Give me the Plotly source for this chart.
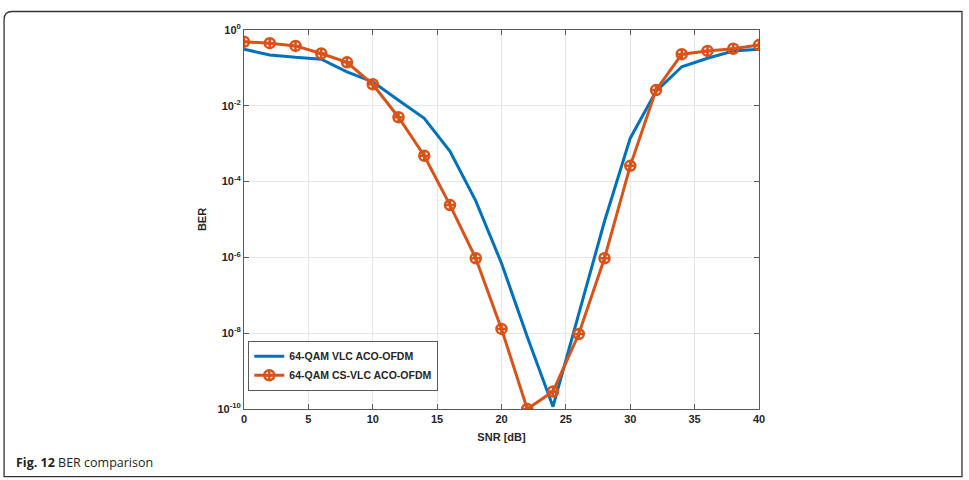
import plotly.graph_objects as go

snr = [0, 2, 4, 6, 8, 10, 12, 14, 16, 18, 20, 22, 24, 26, 28, 30, 32, 34, 36, 38, 40]
ber_vlc = [0.31, 0.22, 0.19, 0.17, 0.079, 0.043, 0.014, 0.0047, 6.3e-4, 3.1e-5, 7e-7,
           8e-9, 1.15e-10, 3.2e-8, 9e-6, 1.4e-3, 0.024, 0.107, 0.18, 0.28, 0.31]
ber_cs_vlc = [0.49, 0.45, 0.38, 0.24, 0.14, 0.037, 0.005, 4.8e-4, 2.4e-5, 9.5e-7, 1.3e-8,
              1e-10, 2.9e-10, 9.5e-9, 9.5e-7, 2.6e-4, 0.026, 0.23, 0.28, 0.32, 0.40]
series_names = ["64-QAM VLC ACO-OFDM", "64-QAM CS-VLC ACO-OFDM"]
x_ticks = [0, 5, 10, 15, 20, 25, 30, 35, 40]
y_exps = [0, -2, -4, -6, -8, -10]

W, H = 969, 480
L, R, T, B = 243.7, 759.3, 30.0, 409.3
pw, ph = R - L, B - T

def px(x):
    return (x - L) / pw

def py(y):
    return (B - y) / ph

fig = go.Figure()
fig.add_trace(go.Scatter(x=snr, y=ber_vlc, mode="lines", name="<b>" + series_names[0] + "</b>",
                         line=dict(color="#0072BD", width=3)))
fig.add_trace(go.Scatter(x=snr, y=ber_cs_vlc, mode="lines+markers", name="<b>" + series_names[1] + "</b>",
                         line=dict(color="#D95319", width=3),
                         marker=dict(symbol="circle-cross-open", size=10,
                                     line=dict(color="#D95319", width=2.5))))

axis_common = dict(showline=True, linecolor="#5a5a5a", linewidth=1, mirror="allticks",
                   ticks="inside", ticklen=5, tickcolor="#5a5a5a",
                   showgrid=True, gridcolor="#e6e6e6", gridwidth=1, zeroline=False,
                   tickfont=dict(family="Liberation Sans, Arial", size=11, color="#262626"))

fig.update_xaxes(range=[0, 40], tickvals=x_ticks, ticktext=[f"<b>{v}</b>" for v in x_ticks],
                 title=dict(text="<b>SNR [dB]</b>", standoff=9,
                            font=dict(family="Liberation Sans, Arial", size=11, color="#262626")),
                 **axis_common)
fig.update_yaxes(type="log", range=[-10, 0], tickvals=[10.0 ** e for e in y_exps],
                 ticktext=[f"<b>10<sup>{e}</sup></b>" for e in y_exps],
                 title=dict(text="<b>BER</b>", standoff=8,
                            font=dict(family="Liberation Sans, Arial", size=11, color="#262626")),
                 **axis_common)

# rounded caption frame
x0, x1, y0, y1 = px(3.5), px(962.5), py(11.5), py(477.0)
rx, ry = 8 / pw, 8 / ph
path = (f"M {x0 + rx},{y0} L {x1},{y0} "
        f"L {x1},{y1} L {x0},{y1} L {x0},{y0 - ry} Q {x0},{y0} {x0 + rx},{y0} Z")
fig.add_shape(type="path", xref="paper", yref="paper", path=path,
              line=dict(color="#333333", width=1.3), fillcolor="rgba(0,0,0,0)", layer="below")

fig.add_annotation(xref="paper", yref="paper", x=px(13), y=py(463), xanchor="left", yanchor="middle",
                   text="<b>Fig. 12</b> BER comparison", showarrow=False,
                   font=dict(family="Open Sans", size=12.5, color="#231f20"))

fig.update_layout(
    width=W, height=H,
    margin=dict(l=L, r=W - R, t=T, b=H - B, autoexpand=False),
    paper_bgcolor="white", plot_bgcolor="white",
    legend=dict(x=px(248), y=py(341), xanchor="left", yanchor="top",
                bgcolor="white", bordercolor="#5a5a5a", borderwidth=1,
                font=dict(family="Liberation Sans, Arial", size=10.5, color="#262626"),
                tracegroupgap=0, itemwidth=30),
    showlegend=True,
)

fig.write_html("out.html")
